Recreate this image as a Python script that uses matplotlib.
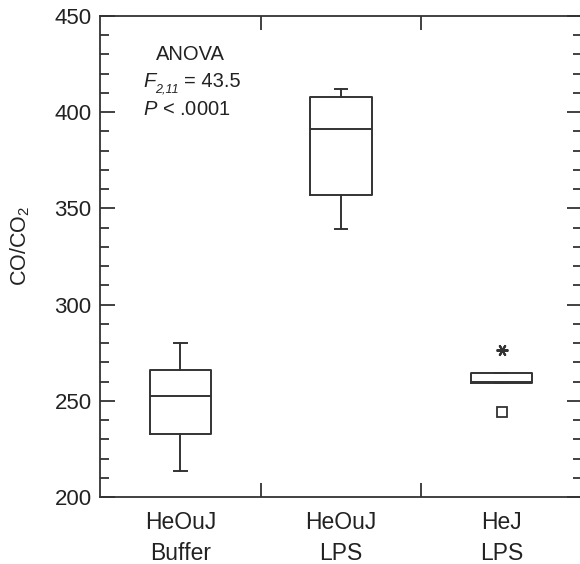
import matplotlib
matplotlib.use("Agg")
import matplotlib.pyplot as plt
from matplotlib.ticker import MultipleLocator, FixedLocator

plt.rcParams['font.family'] = ['Liberation Sans', 'DejaVu Sans']
plt.rcParams['mathtext.fontset'] = 'custom'
plt.rcParams['mathtext.rm'] = 'Liberation Sans'
plt.rcParams['mathtext.it'] = 'Liberation Sans:italic'

# ---- data ----
groups = ["HeOuJ\nBuffer", "HeOuJ\nLPS", "HeJ\nLPS"]
whislo = [213.5, 339.5, 259.0]
q1 = [233.0, 357.0, 259.0]
med = [252.5, 391.5, 260.0]
q3 = [266.0, 408.0, 264.5]
whishi = [280.0, 412.0, 264.5]
star_outliers = [276.5]      # group 3
square_outliers = [244.0]    # group 3
yticks = [200, 250, 300, 350, 400, 450]

ink = '#333333'
txt = '#222222'
fig = plt.figure(figsize=(5.8, 5.64), dpi=100)
ax = fig.add_axes([100/580, 67/564, 482/580, 481/564])

positions = [1, 2, 3]
stats = []
for g, lo, a, m, b, hi in zip(groups, whislo, q1, med, q3, whishi):
    stats.append(dict(label=g, whislo=lo, q1=a, med=m, q3=b, whishi=hi, fliers=[]))

ax.bxp(stats, positions=positions, widths=0.38, capwidths=0.08,
       showfliers=False, patch_artist=False,
       boxprops=dict(color=ink, linewidth=1.4),
       medianprops=dict(color=ink, linewidth=1.4),
       whiskerprops=dict(color=ink, linewidth=1.4),
       capprops=dict(color=ink, linewidth=1.4))

ax.plot([3]*len(star_outliers), star_outliers, linestyle='none',
        marker=(6, 2, 90), markersize=8.5, markeredgecolor=ink, markeredgewidth=1.5)
ax.plot([3]*len(square_outliers), square_outliers, linestyle='none',
        marker='s', markersize=6.5, markerfacecolor='white',
        markeredgecolor=ink, markeredgewidth=1.3)

ax.set_xlim(0.5, 3.5)
ax.set_ylim(200, 450)
ax.set_yticks(yticks)
ax.yaxis.set_minor_locator(MultipleLocator(10))
ax.xaxis.set_major_locator(FixedLocator([1.5, 2.5]))
ax.set_xticklabels([])

for s in ax.spines.values():
    s.set_color(ink)
    s.set_linewidth(1.3)

ax.tick_params(axis='y', which='major', direction='in', length=10.5, width=1.3,
               color=ink, left=True, right=True, labelsize=16, pad=6, labelcolor=txt)
ax.tick_params(axis='y', which='minor', direction='in', length=6.5, width=1.3,
               color=ink, left=True, right=True)
ax.tick_params(axis='x', which='major', direction='in', length=10, width=1.3,
               color=ink, top=True, bottom=True)

# group labels (categories at positions)
for p, g in zip(positions, groups):
    ax.text(p, -0.030, g, transform=ax.get_xaxis_transform(), ha='center', va='top',
            fontsize=16.5, linespacing=1.42, color=txt)

fig.text(20/580, 1 - 246/564, r'CO/CO$_2$', rotation=90, ha='center', va='center',
         fontsize=15.5, color=txt)

fig.text(190/580, 1 - 54/564, 'ANOVA', ha='center', va='center', fontsize=14.5, color=txt)
fig.text(143/580, 1 - 87/564, 'F', style='italic', ha='left', va='baseline',
         fontsize=14.5, color=txt)
fig.text(155.5/580, 1 - 92/564, '2,11', style='italic', ha='left', va='baseline',
         fontsize=9, color=txt)
fig.text(184/580, 1 - 87/564, '= 43.5', ha='left', va='baseline',
         fontsize=14.5, color=txt)
fig.text(143/580, 1 - 115/564, r'$\it{P}$ < .0001', ha='left', va='baseline',
         fontsize=14.5, color=txt)

fig.savefig('out.png', dpi=100)
